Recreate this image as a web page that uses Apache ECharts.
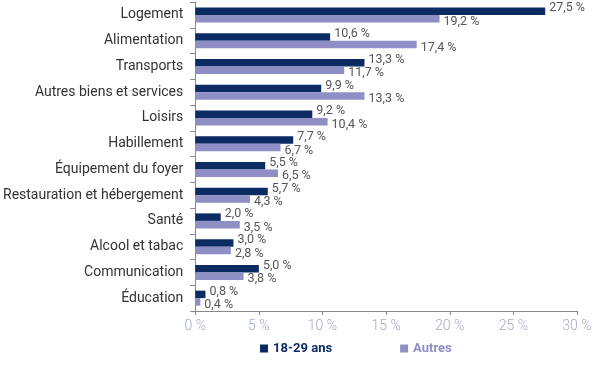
<!DOCTYPE html>
<html><head><meta charset="utf-8">
<script src="https://cdn.jsdelivr.net/npm/echarts@6/dist/echarts.min.js"></script>
<style>html,body{margin:0;padding:0;background:#fff}#c{width:600px;height:366px}</style>
</head><body><div id="c"></div>
<script>
const categories = ["Logement","Alimentation","Transports","Autres biens et services","Loisirs","Habillement","Équipement du foyer","Restauration et hébergement","Santé","Alcool et tabac","Communication","Éducation"];
const young = [27.5,10.6,13.3,9.9,9.2,7.7,5.5,5.7,2.0,3.0,5.0,0.8];
const others = [19.2,17.4,11.7,13.3,10.4,6.7,6.5,4.3,3.5,2.8,3.8,0.4];
const xTicks = [0,5,10,15,20,25,30];
const fmt = v => v.toFixed(1).replace('.', ',') + ' %';
const chart = echarts.init(document.getElementById('c'));
chart.setOption({
  animation:false,
  grid:{left:195,right:23,top:2,bottom:55},
  legend:{bottom:6,left:255,itemGap:68,itemWidth:8,itemHeight:8,icon:'rect',
    textStyle:{fontFamily:'Roboto',fontWeight:'bold',fontSize:13},
    data:[{name:'18-29 ans',textStyle:{color:'#0d2b63'}},{name:'Autres',textStyle:{color:'#8f8fc6'}}]},
  xAxis:{type:'value',min:xTicks[0],max:xTicks[xTicks.length-1],interval:5,
    axisLine:{show:true,lineStyle:{color:'#888'}},axisTick:{show:true,length:4,lineStyle:{color:'#888'}},
    splitLine:{show:false},
    axisLabel:{formatter:v=>v+' %',color:'#a3a9cc',fontFamily:'Roboto',fontWeight:300,fontSize:14,margin:8}},
  yAxis:{type:'category',data:categories,inverse:true,
    axisLine:{lineStyle:{color:'#888'}},axisTick:{show:true,length:5,lineStyle:{color:'#888'}},
    axisLabel:{color:'#333',fontFamily:'Roboto',fontSize:14,margin:12}},
  series:[
    {name:'18-29 ans',type:'bar',data:young,barWidth:7.5,barGap:'0%',itemStyle:{color:'#0d2b63'},
     label:{show:true,position:'right',distance:4,offset:[0,-3],formatter:p=>fmt(p.value),color:'#555',fontFamily:'Roboto',fontSize:12.5}},
    {name:'Autres',type:'bar',data:others,barWidth:7.5,barGap:'0%',itemStyle:{color:'#8f8fc6'},
     label:{show:true,position:'right',distance:4,offset:[0,3],formatter:p=>fmt(p.value),color:'#555',fontFamily:'Roboto',fontSize:12.5}}
  ]
});
</script></body></html>
